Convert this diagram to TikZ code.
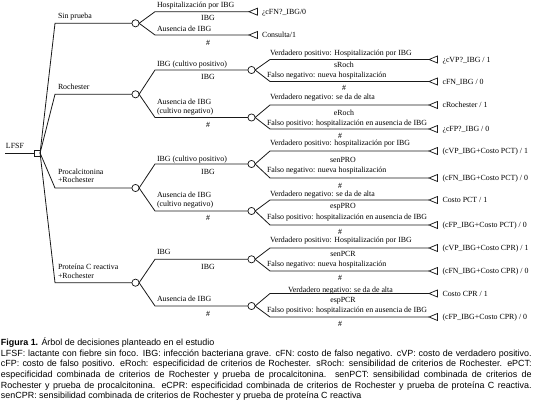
\documentclass[tikz,border=0pt]{standalone}
\usepackage{fontspec}
\setmainfont{Liberation Serif}
\newfontfamily\capfont{Liberation Sans}
\newcommand\termtri[1]{\draw[term] (#1) -- ++(8.5,-3.5) -- ++(0,7) -- cycle;}
\begin{document}
\begin{tikzpicture}[x=0.75pt,y=-0.75pt,
  every node/.style={inner sep=0pt, outer sep=0pt},
  tree/.style={font=\fontsize{5.9pt}{7pt}\selectfont},
  lbl/.style={tree, anchor=base west},
  clbl/.style={tree, anchor=base},
  edge/.style={draw=black!90, line width=0.6pt},
  chance/.style={circle, draw=black!90, fill=white, line width=0.55pt, minimum size=5.4pt},
  decis/.style={rectangle, draw=black!90, fill=white, line width=0.55pt, minimum size=4.6pt},
  term/.style={draw=black!90, line width=0.55pt, fill=white}]
\useasboundingbox (0,0) rectangle (534,402);

% ---------- root ----------
\coordinate (start) at (5,153);
\node[decis] (D) at (37,153) {};
\draw[edge] (start) -- (D.west);
\node[lbl] (lfsf) at (6,148.5) {LFSF};

% ---------- level 1 ----------
\node[chance] (C1) at (135.5,23.3) {};
\node[chance] (C2) at (135.5,94.3) {};
\node[chance] (C3) at (135.5,188) {};
\node[chance] (C4) at (135.5,282.7) {};
\draw[edge] (D.east) -- (55,23.3) -- (C1.west);
\draw[edge] (D.east) -- (55,94.3) -- (C2.west);
\draw[edge] (D.east) -- (55,188) -- (C3.west);
\draw[edge] (D.east) -- (55,282.7) -- (C4.west);
\node[lbl] (l1) at (58,18.7) {Sin prueba};
\node[lbl] (l2) at (58,89.7) {Rochester};
\node[lbl] (l3a) at (58,175) {Procalcitonina};
\node[lbl] (l3b) at (58,182.7) {+Rochester};
\node[lbl] (l4a) at (58,269.4) {Proteína C reactiva};
\node[lbl] (l4b) at (58,278.7) {+Rochester};

% ---------- level 2: Sin prueba ----------
\coordinate (T1) at (249,11.7);
\coordinate (T2) at (249,35);
\draw[edge] (C1.east) -- (155,11.7) -- (T1);
\draw[edge] (C1.east) -- (155,35) -- (T2);
\termtri{T1}\termtri{T2}
\node[lbl] (s1) at (157,7.7) {Hospitalización por IBG};
\node[clbl] (s2) at (208,20.4) {IBG};
\node[lbl] (s3) at (157,31.4) {Ausencia de IBG};
\node[clbl] (s4) at (208,45.4) {\#};
\node[lbl] (s5) at (262,14.4) {¿cFN?\_IBG/0};
\node[lbl] (s6) at (262,37.7) {Consulta/1};

% ---------- level 2: Rochester ----------
\node[chance] (C21) at (251.5,70) {};
\node[chance] (C22) at (251.5,117.5) {};
\draw[edge] (C2.east) -- (155,70) -- (C21.west);
\draw[edge] (C2.east) -- (155,117.5) -- (C22.west);
\node[lbl] (r1) at (157,66.4) {IBG (cultivo positivo)};
\node[clbl] (r2) at (208,79.7) {IBG};
\node[lbl] (r3) at (157,104.4) {Ausencia de IBG};
\node[lbl] (r4) at (157,113.2) {(cultivo negativo)};
\node[clbl] (r5) at (208,127.4) {\#};

% ---------- level 2: Procalcitonina ----------
\node[chance] (C31) at (251.5,164) {};
\node[chance] (C32) at (251.5,211) {};
\draw[edge] (C3.east) -- (155,164) -- (C31.west);
\draw[edge] (C3.east) -- (155,211) -- (C32.west);
\node[lbl] (p1) at (157,161.4) {IBG (cultivo positivo)};
\node[clbl] (p2) at (208,174.4) {IBG};
\node[lbl] (p3) at (157,197.4) {Ausencia de IBG};
\node[lbl] (p4) at (157,206.2) {(cultivo negativo)};
\node[clbl] (p5) at (208,221) {\#};

% ---------- level 2: PCR ----------
\node[chance] (C41) at (251.5,259.3) {};
\node[chance] (C42) at (251.5,306) {};
\draw[edge] (C4.east) -- (155,259.3) -- (C41.west);
\draw[edge] (C4.east) -- (155,306) -- (C42.west);
\node[lbl] (q1) at (157,254.4) {IBG};
\node[clbl] (q2) at (208,269) {IBG};
\node[lbl] (q3) at (157,301.7) {Ausencia de IBG};
\node[clbl] (q4) at (208,316) {\#};

% ---------- level 3 terminals ----------
\coordinate (U1) at (429,59.5);  \coordinate (U2) at (429,81.5);
\coordinate (U3) at (429,105);   \coordinate (U4) at (429,129);
\coordinate (U5) at (429,151);   \coordinate (U6) at (429,178);
\coordinate (U7) at (429,200);   \coordinate (U8) at (429,225);
\coordinate (U9) at (429,248);   \coordinate (U10) at (429,271);
\coordinate (U11) at (429,293.5);\coordinate (U12) at (429,317);
\draw[edge] (C21.east) -- (270,59.5) -- (U1);
\draw[edge] (C21.east) -- (270,81.5) -- (U2);
\draw[edge] (C22.east) -- (270,105) -- (U3);
\draw[edge] (C22.east) -- (270,129) -- (U4);
\draw[edge] (C31.east) -- (270,151) -- (U5);
\draw[edge] (C31.east) -- (270,178) -- (U6);
\draw[edge] (C32.east) -- (270,200) -- (U7);
\draw[edge] (C32.east) -- (270,225) -- (U8);
\draw[edge] (C41.east) -- (270,248) -- (U9);
\draw[edge] (C41.east) -- (270,271) -- (U10);
\draw[edge] (C42.east) -- (270,293.5) -- (U11);
\draw[edge] (C42.east) -- (270,317) -- (U12);
\termtri{U1}\termtri{U2}\termtri{U3}\termtri{U4}\termtri{U5}\termtri{U6}
\termtri{U7}\termtri{U8}\termtri{U9}\termtri{U10}\termtri{U11}\termtri{U12}

\node[lbl] (v1) at (442.5,62.2) {¿cVP?\_IBG / 1};
\node[lbl] (v2) at (442.5,84.2) {cFN\_IBG / 0};
\node[lbl] (v3) at (442.5,107.7) {cRochester / 1};
\node[lbl] (v4) at (442.5,131.7) {¿cFP?\_IBG / 0};
\node[lbl] (v5) at (442.5,153.7) {(cVP\_IBG+Costo PCT) / 1};
\node[lbl] (v6) at (442.5,180.7) {(cFN\_IBG+Costo PCT) / 0};
\node[lbl] (v7) at (442.5,202.7) {Costo PCT / 1};
\node[lbl] (v8) at (442.5,227.7) {(cFP\_IBG+Costo PCT) / 0};
\node[lbl] (v9) at (442.5,250.7) {(cVP\_IBG+Costo CPR) / 1};
\node[lbl] (v10) at (442.5,273.7) {(cFN\_IBG+Costo CPR) / 0};
\node[lbl] (v11) at (442.5,296.2) {Costo CPR / 1};
\node[lbl] (v12) at (442.5,319.7) {(cFP\_IBG+Costo CPR) / 0};

% ---------- level 3 labels ----------
\node[lbl] (a1) at (270,55.4) {Verdadero positivo: Hospitalización por IBG};
\node[clbl] (a2) at (344,67.7) {sRoch};
\node[lbl] (a3) at (267,77.7) {Falso negativo: nueva hospitalización};
\node[clbl] (a4) at (344,90.7) {\#};

\node[lbl] (b1) at (270,99.4) {Verdadero negativo: se da de alta};
\node[clbl] (b2) at (344,115.7) {eRoch};
\node[lbl] (b3) at (267,125.4) {Falso positivo: hospitalización en ausencia de IBG};
\node[clbl] (b4) at (340,138.7) {\#};

\node[lbl] (c1) at (270,145.4) {Verdadero positivo: hospitalización por IBG};
\node[clbl] (c2) at (343,162.7) {senPRO};
\node[lbl] (c3) at (267,172.7) {Falso negativo: nueva hospitalización};
\node[clbl] (c4) at (340,188.7) {\#};

\node[lbl] (d1) at (270,196.7) {Verdadero negativo: se da de alta};
\node[clbl] (d2) at (343,208.7) {espPRO};
\node[lbl] (d3) at (267,219.4) {Falso positivo: hospitalización en ausencia de IBG};
\node[clbl] (d4) at (340,234.4) {\#};

\node[lbl] (e1) at (270,242.7) {Verdadero positivo: Hospitalización por IBG};
\node[clbl] (e2) at (343,256) {senPCR};
\node[lbl] (e3) at (267,266.7) {Falso negativo: nueva hospitalización};
\node[clbl] (e4) at (340,280) {\#};

\node[lbl] (f1) at (288,292) {Verdadero negativo: se da de alta};
\node[clbl] (f2) at (343,302) {espPCR};
\node[lbl] (f3) at (267,312.7) {Falso positivo: hospitalización en ausencia de IBG};
\node[clbl] (f4) at (340,326) {\#};

% ---------- caption ----------
\node[anchor=north west, text width=398pt, align=justify,
      font=\capfont\fontsize{6.7pt}{7.95pt}\selectfont] (cap) at (1,338)
 {\hyphenpenalty=10000\tolerance=10000\textbf{Figura 1.} Árbol de decisiones planteado en el estudio\\
 LFSF: lactante con fiebre sin foco. IBG: infección bacteriana grave. cFN: costo de falso negativo. cVP: costo de verdadero positivo.\linebreak
 cFP: costo de falso positivo. eRoch: especificidad de criterios de Rochester. sRoch: sensibilidad de criterios de Rochester. ePCT:\linebreak
 especificidad combinada de criterios de Rochester y prueba de procalcitonina. senPCT: sensibilidad combinada de criterios de\linebreak
 Rochester y prueba de procalcitonina. eCPR: especificidad combinada de criterios de Rochester y prueba de proteína C reactiva.\linebreak
 senCPR: sensibilidad combinada de criterios de Rochester y prueba de proteína C reactiva};
\end{tikzpicture}
\end{document}
